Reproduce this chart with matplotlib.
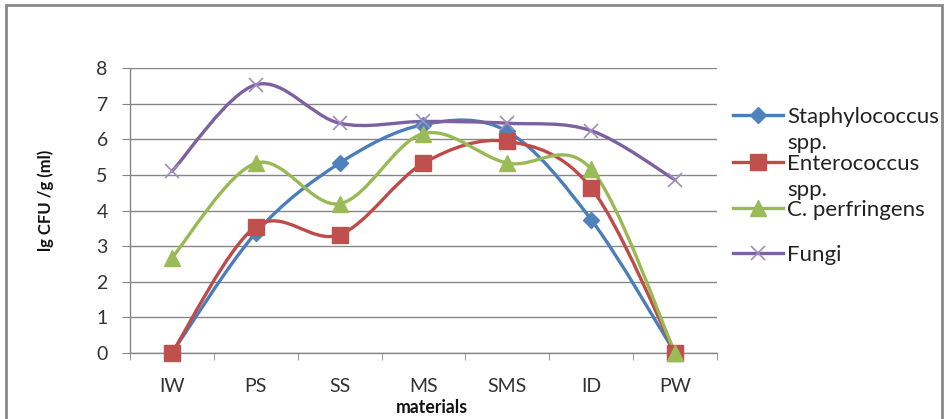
import matplotlib
matplotlib.use("Agg")
import matplotlib.pyplot as plt
from matplotlib.path import Path
from matplotlib.patches import PathPatch, Rectangle
from matplotlib.lines import Line2D

categories = ["IW", "PS", "SS", "MS", "SMS", "ID", "PW"]
staph = [0.0, 3.37, 5.33, 6.41, 6.22, 3.74, 0.0]
entero = [0.0, 3.55, 3.32, 5.33, 5.94, 4.63, 0.0]
cperf = [2.67, 5.33, 4.19, 6.16, 5.33, 5.16, 0.0]
fungi = [5.10, 7.53, 6.45, 6.50, 6.45, 6.24, 4.86]
yticks = [0, 1, 2, 3, 4, 5, 6, 7, 8]

series = [
    ("Staphylococcus\nspp.", staph, "#4A7EBB", "D", "#4F81BD", 8),
    ("Enterococcus\nspp.", entero, "#BE4B48", "s", "#C0504D", 12),
    ("C. perfringens", cperf, "#98B954", "^", "#9BBB59", 12),
    ("Fungi", fungi, "#7D60A0", "x", "#A08CBE", 10),
]

plt.rcParams["font.family"] = ["Lato", "DejaVu Sans"]
W, H = 945, 419
fig = plt.figure(figsize=(W / 100, H / 100), dpi=100)
ax = fig.add_axes([130 / W, 1 - 353 / H, (717 - 130) / W, (353 - 68) / H])

gray = "#868686"


def smooth_path(xs, ys):
    pts = list(zip(xs, ys))
    n = len(pts)
    verts = [pts[0]]
    codes = [Path.MOVETO]
    for i in range(n - 1):
        p0 = pts[i - 1] if i > 0 else pts[i]
        p1 = pts[i]
        p2 = pts[i + 1]
        p3 = pts[i + 2] if i + 2 < n else pts[i + 1]
        c1 = (p1[0] + (p2[0] - p0[0]) / 6, p1[1] + (p2[1] - p0[1]) / 6)
        c2 = (p2[0] - (p3[0] - p1[0]) / 6, p2[1] - (p3[1] - p1[1]) / 6)
        verts += [c1, c2, p2]
        codes += [Path.CURVE4] * 3
    return Path(verts, codes)


xs = list(range(len(categories)))
for label, vals, lc, mk, mc, ms in series:
    patch = PathPatch(smooth_path(xs, vals), facecolor="none", edgecolor=lc,
                      linewidth=2.4, clip_on=False, zorder=3, capstyle="round")
    ax.add_patch(patch)
    if mk == "x":
        ax.plot(xs, vals, linestyle="none", marker=mk, markersize=ms,
                markeredgecolor=mc, markeredgewidth=1.2, clip_on=False, zorder=4)
    else:
        ax.plot(xs, vals, linestyle="none", marker=mk, markersize=ms,
                markerfacecolor=mc, markeredgecolor=mc, clip_on=False, zorder=4)

ax.set_xlim(-0.5, len(categories) - 0.5)
ax.set_ylim(0, 8)
ax.set_yticks(yticks)
ax.set_xticks(xs)
ax.set_xticklabels(categories)
ax.set_xticks([i - 0.5 for i in range(len(categories) + 1)], minor=True)
ax.tick_params(axis="x", which="major", length=0, pad=18, labelsize=14, colors="#333333")
ax.tick_params(axis="x", which="minor", length=5, color=gray, direction="out")
ax.tick_params(axis="y", length=6, color=gray, pad=10, labelsize=14, labelcolor="#333333")
ax.yaxis.grid(True, color=gray, linewidth=1)
ax.set_axisbelow(True)
for s in ["top", "right"]:
    ax.spines[s].set_visible(False)
for s in ["left", "bottom"]:
    ax.spines[s].set_color(gray)
    ax.spines[s].set_linewidth(1)

fig.text(46 / W, 1 - 200 / H, "lg CFU /g (ml)", rotation=90, ha="center", va="center",
         fontsize=12, fontweight="bold", color="#111111")
fig.text(432 / W, 1 - 407 / H, "materials", ha="center", va="center",
         fontsize=12.7, fontweight="bold", color="#111111")

# legend
leg_y = [115, 162, 208, 253]
for (label, vals, lc, mk, mc, ms), y in zip(series, leg_y):
    yf = 1 - y / H
    fig.add_artist(Line2D([733 / W, 783 / W], [yf, yf], color=lc, linewidth=2.4,
                          transform=fig.transFigure))
    if mk == "x":
        fig.add_artist(Line2D([758 / W], [yf], marker=mk, markersize=ms, markeredgecolor=mc,
                              markeredgewidth=1.2, transform=fig.transFigure))
    else:
        fig.add_artist(Line2D([758 / W], [yf], marker=mk, markersize=ms, markerfacecolor=mc,
                              markeredgecolor=mc, transform=fig.transFigure))
    for k, t in enumerate(label.split("\n")):
        fig.text(787 / W, 1 - (y + 26 * k) / H, t, ha="left", va="center_baseline",
                 fontsize=16, color="#222222")

# outer border
fig.add_artist(Rectangle((6 / W, -0.05), (942 - 6) / W, 1.05 - 5 / H, transform=fig.transFigure,
                         fill=False, edgecolor="#8a8a8a", linewidth=2))

fig.savefig("out.png", dpi=100)
